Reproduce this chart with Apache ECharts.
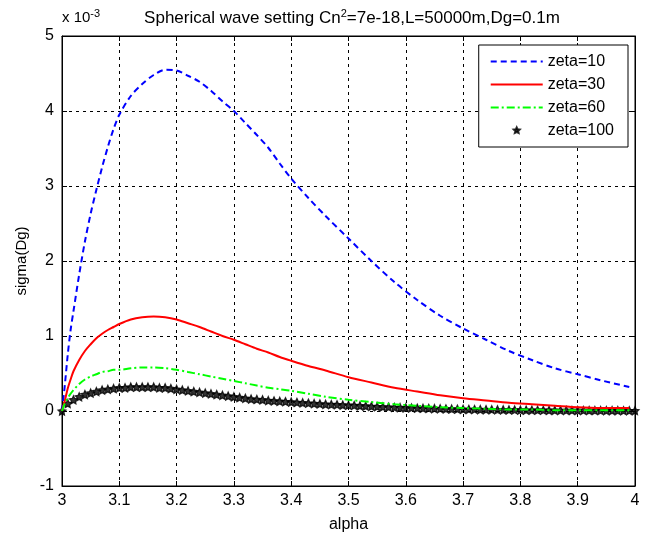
<!DOCTYPE html>
<html>
<head>
<meta charset="utf-8">
<script src="https://cdn.jsdelivr.net/npm/echarts@6/dist/echarts.min.js"></script>
<style>
html,body{margin:0;padding:0;background:#fff;}
#c{width:652px;height:538px;}
</style>
</head>
<body>
<div id="c"></div>
<script>
// Values in units of 1e-3
var alpha = [3.000, 3.005, 3.010, 3.015, 3.020, 3.030, 3.040, 3.050, 3.060, 3.070, 3.080, 3.090, 3.100, 3.120, 3.140, 3.160, 3.180, 3.200, 3.220, 3.240, 3.260, 3.280, 3.300, 3.320, 3.340, 3.360, 3.380, 3.400, 3.430, 3.460, 3.500, 3.540, 3.580, 3.620, 3.660, 3.700, 3.740, 3.780, 3.820, 3.860, 3.900, 3.940, 3.990];
var zeta10 = [0, 0.35, 0.75, 1.08, 1.33, 1.82, 2.26, 2.63, 2.95, 3.25, 3.52, 3.76, 3.95, 4.20, 4.36, 4.48, 4.55, 4.54, 4.47, 4.39, 4.27, 4.13, 4.00, 3.84, 3.68, 3.51, 3.30, 3.10, 2.84, 2.60, 2.30, 2.00, 1.72, 1.48, 1.27, 1.10, 0.95, 0.80, 0.68, 0.57, 0.49, 0.41, 0.32];
var zeta30 = [0, 0.14, 0.30, 0.42, 0.53, 0.68, 0.80, 0.89, 0.97, 1.03, 1.08, 1.12, 1.16, 1.22, 1.25, 1.26, 1.25, 1.22, 1.17, 1.12, 1.06, 1.00, 0.95, 0.89, 0.83, 0.78, 0.72, 0.67, 0.60, 0.54, 0.45, 0.38, 0.31, 0.26, 0.21, 0.17, 0.14, 0.11, 0.09, 0.07, 0.05, 0.04, 0.04];
var zeta60 = [0, 0.10, 0.17, 0.23, 0.28, 0.36, 0.42, 0.46, 0.49, 0.52, 0.53, 0.55, 0.55, 0.57, 0.58, 0.58, 0.57, 0.55, 0.52, 0.49, 0.46, 0.43, 0.40, 0.37, 0.34, 0.31, 0.29, 0.27, 0.23, 0.19, 0.15, 0.12, 0.09, 0.07, 0.05, 0.04, 0.03, 0.02, 0.02, 0.01, 0.01, 0.01, 0.01];
var alphaFine = [];
for (var i = 0; i <= 100; i++) alphaFine.push(+(3 + i * 0.01).toFixed(2));
var zeta100 = [0, 0.10, 0.15, 0.19, 0.22, 0.24, 0.26, 0.28, 0.29, 0.30,
  0.31, 0.31, 0.32, 0.32, 0.32, 0.32, 0.32, 0.31, 0.31, 0.30,
  0.29, 0.28, 0.27, 0.26, 0.25, 0.24, 0.23, 0.22, 0.21, 0.20,
  0.19, 0.18, 0.17, 0.16, 0.155, 0.15, 0.14, 0.135, 0.13, 0.125,
  0.12, 0.115, 0.11, 0.105, 0.10, 0.095, 0.09, 0.087, 0.084, 0.08,
  0.077, 0.074, 0.07, 0.066, 0.062, 0.058, 0.055, 0.052, 0.049, 0.046,
  0.043, 0.041, 0.039, 0.037, 0.035, 0.033, 0.031, 0.029, 0.027, 0.025,
  0.023, 0.022, 0.021, 0.02, 0.019, 0.018, 0.017, 0.016, 0.015, 0.014,
  0.013, 0.012, 0.012, 0.011, 0.011, 0.01, 0.01, 0.009, 0.009, 0.008,
  0.008, 0.008, 0.007, 0.007, 0.007, 0.006, 0.006, 0.006, 0.005, 0.005, 0.005];
var xTicks = ['3', '3.1', '3.2', '3.3', '3.4', '3.5', '3.6', '3.7', '3.8', '3.9', '4'];
var yTicks = ['-1', '0', '1', '2', '3', '4', '5'];
var seriesNames = ['zeta=10', 'zeta=30', 'zeta=60', 'zeta=100'];

function pairs(xs, ys) { return xs.map(function (x, i) { return [x, ys[i]]; }); }

var FONT = 'Liberation Sans, Arial, sans-serif';
var starPath = 'path://M0,-10 L2.9,-4 L9.5,-3.1 L4.7,1.5 L5.9,8.1 L0,5 L-5.9,8.1 L-4.7,1.5 L-9.5,-3.1 L-2.9,-4 Z';
// small star centred in a wide invisible box, for the legend sample
var legendStar = 'path://M-37,-10 L-37,-10 Z M37,10 L37,10 Z M0,-4.5 L1.3,-1.8 L4.3,-1.4 L2.1,0.7 L2.7,3.6 L0,2.2 L-2.7,3.6 L-2.1,0.7 L-4.3,-1.4 L-1.3,-1.8 Z';

var chart = echarts.init(document.getElementById('c'), null, {renderer: 'canvas'});
var gridLine = {show: true, lineStyle: {color: '#000', type: [3, 4], width: 1}};
var hideSym = {opacity: 0};
chart.setOption({
  backgroundColor: '#fff',
  animation: false,
  title: {
    text: 'Spherical wave setting Cn{s|2}=7e-18,L=50000m,Dg=0.1m',
    left: 347, top: 3, textAlign: 'center',
    textStyle: {fontFamily: FONT, fontSize: 17, fontWeight: 'normal', color: '#000',
      rich: {s: {fontFamily: FONT, fontSize: 11, padding: [0, 0, 9, 0], color: '#000'}}}
  },
  graphic: [{
    type: 'text', left: 62, top: 8,
    style: {
      text: 'x 10{s|-3}', fontFamily: FONT, fontSize: 15, fill: '#000',
      rich: {s: {fontFamily: FONT, fontSize: 11, padding: [0, 0, 9, 0], fill: '#000'}}
    }
  }],
  legend: {
    orient: 'vertical', right: 24, top: 45,
    backgroundColor: '#fff', borderColor: '#000', borderWidth: 1,
    padding: [8, 14, 8, 11], itemGap: 6, itemWidth: 52, itemHeight: 14,
    textStyle: {fontFamily: FONT, fontSize: 16, lineHeight: 17, color: '#000'},
    data: [
      {name: seriesNames[0], itemStyle: hideSym},
      {name: seriesNames[1], itemStyle: hideSym},
      {name: seriesNames[2], itemStyle: hideSym},
      {name: seriesNames[3], icon: legendStar}
    ]
  },
  grid: {left: 62, right: 17, top: 36, bottom: 52, show: true, borderColor: '#000', borderWidth: 1},
  xAxis: [{
    type: 'value', min: 3, max: 4, interval: 0.1,
    name: 'alpha', nameLocation: 'middle', nameGap: 31,
    nameTextStyle: {fontFamily: FONT, fontSize: 16, color: '#000'},
    axisLine: {show: true, onZero: false, lineStyle: {color: '#000'}},
    axisTick: {show: true, inside: true, length: 5, lineStyle: {color: '#000'}},
    axisLabel: {fontFamily: FONT, fontSize: 16, color: '#000', margin: 7,
      formatter: function (v) { return xTicks[Math.round((v - 3) * 10)]; }},
    splitLine: gridLine
  }, {
    type: 'value', min: 3, max: 4, interval: 0.1, position: 'top',
    axisLine: {show: true, onZero: false, lineStyle: {color: '#000'}},
    axisTick: {show: true, inside: true, length: 5, lineStyle: {color: '#000'}},
    axisLabel: {show: false}, splitLine: {show: false}
  }],
  yAxis: [{
    type: 'value', min: -1, max: 5, interval: 1,
    name: 'sigma(Dg)', nameLocation: 'middle', nameGap: 32, nameRotate: 90,
    nameTextStyle: {fontFamily: FONT, fontSize: 15, color: '#000'},
    axisLine: {show: true, onZero: false, lineStyle: {color: '#000'}},
    axisTick: {show: true, inside: true, length: 5, lineStyle: {color: '#000'}},
    axisLabel: {fontFamily: FONT, fontSize: 16, color: '#000', margin: 8,
      formatter: function (v) { return yTicks[Math.round(v + 1)]; }},
    splitLine: gridLine
  }, {
    type: 'value', min: -1, max: 5, interval: 1, position: 'right',
    axisLine: {show: true, onZero: false, lineStyle: {color: '#000'}},
    axisTick: {show: true, inside: true, length: 5, lineStyle: {color: '#000'}},
    axisLabel: {show: false}, splitLine: {show: false}
  }],
  series: [{
    name: seriesNames[0], type: 'line', data: pairs(alpha, zeta10), smooth: 0.3,
    symbol: 'none', color: '#0000ff',
    lineStyle: {color: '#0000ff', width: 2, type: [6, 4]}
  }, {
    name: seriesNames[1], type: 'line', data: pairs(alpha, zeta30), smooth: 0.3,
    symbol: 'none', color: '#ff0000',
    lineStyle: {color: '#ff0000', width: 2, type: 'solid'}
  }, {
    name: seriesNames[2], type: 'line', data: pairs(alpha, zeta60), smooth: 0.3,
    symbol: 'none', color: '#00ff00',
    lineStyle: {color: '#00ff00', width: 2, type: [8, 3, 2, 3]}
  }, {
    name: seriesNames[3], type: 'scatter', data: pairs(alphaFine, zeta100),
    symbol: starPath, symbolSize: 8, color: '#000',
    itemStyle: {color: '#000', borderColor: '#000', borderWidth: 1.2}
  }]
});
</script>
</body>
</html>
